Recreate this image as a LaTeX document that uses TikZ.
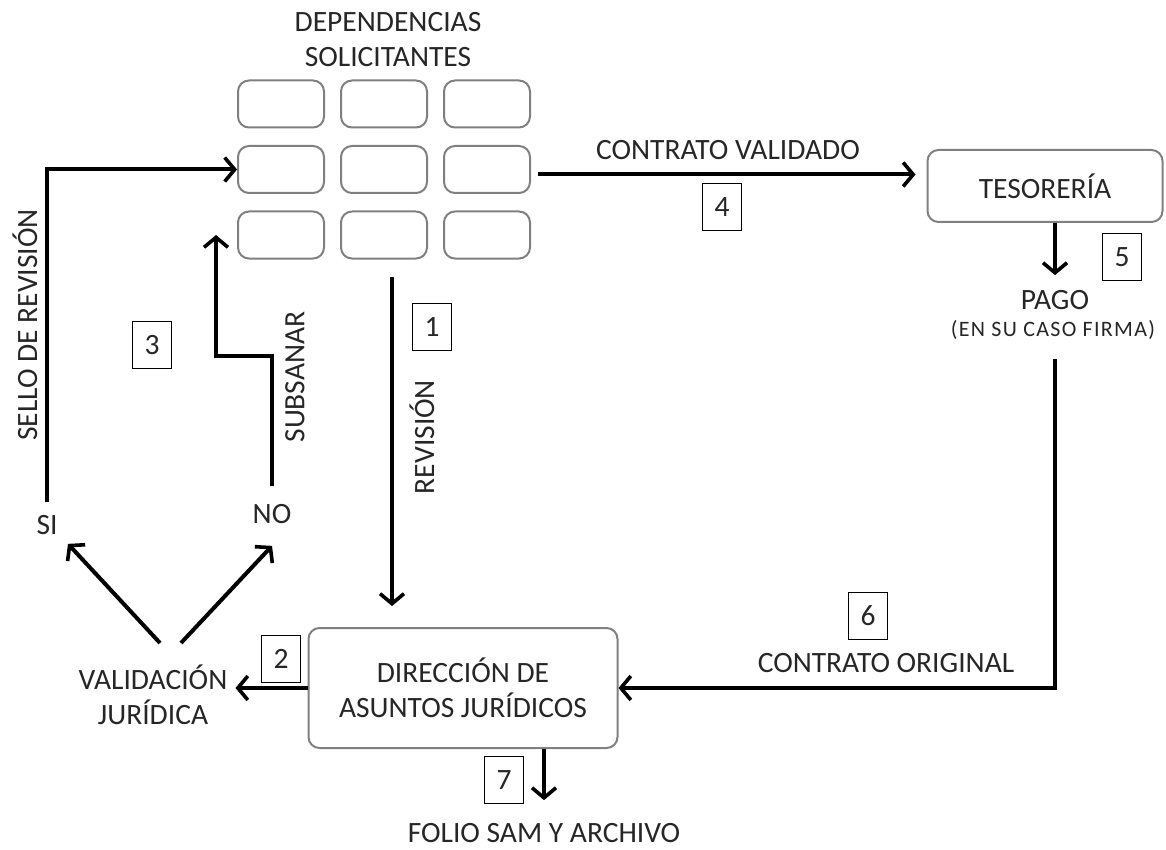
\documentclass[tikz,border=0pt]{standalone}
\usepackage{fontspec}
\setmainfont{Carlito}
\usetikzlibrary{arrows.meta}

\begin{document}
\begin{tikzpicture}[x=1pt, y=-1pt,
    every node/.style = {font=\fontsize{29.5}{35}\selectfont, align=center, inner sep=0pt, text=black!85},
    caja/.style = {draw=black!50, line width=2pt, rounded corners=11pt},
    num/.style = {draw=black, line width=1.8pt, minimum width=39pt, minimum height=47pt},
    flecha/.style = {line width=4pt, -{Straight Barb[length=10pt, width=24pt, line width=3.6pt]}}]
\useasboundingbox (0,0) rectangle (1166,850);
\node (tit) at (388,40) {DEPENDENCIAS\\SOLICITANTES};
\foreach \i in {1,2,3}
    \foreach \j in {1,2,3}
        \node[caja, minimum width=86pt, minimum height=47pt] (d\i\j)
            at ({281+103*(\j-1)}, {104+65.5*(\i-1)}) {};
\node[caja, minimum width=235pt, minimum height=72pt] (tes) at (1045,186) {TESORERÍA};
\node[caja, minimum width=309pt, minimum height=120pt] (daj) at (463,688)
    {DIRECCIÓN DE\\ASUNTOS JURÍDICOS};
\node (val) at (153,695) {VALIDACIÓN\\JURÍDICA};
\node (si) at (47,525) {SI};
\node (no) at (272,514) {NO};
\node (pago) at (1055,300) {PAGO};
\node[font=\fontsize{22}{26}\selectfont\addfontfeatures{LetterSpace=6}] (firma) at (1053,330) {(EN SU CASO FIRMA)};
\node (folio) at (544,833) {FOLIO SAM Y ARCHIVO};
\node (cv) at (728,150) {CONTRATO VALIDADO};
\node (co) at (886,663) {CONTRATO ORIGINAL};
\node[rotate=90] (sello) at (25,325) {SELLO DE REVISIÓN};
\node[rotate=90] (sub) at (295,377) {SUBSANAR};
\node[rotate=90] (rev) at (422,437) {REVISIÓN};
\node[num] (n1) at (432,327) {1};
\node[num] (n2) at (281,659) {2};
\node[num] (n3) at (152,345) {3};
\node[num] (n4) at (722,207) {4};
\node[num] (n5) at (1122,257) {5};
\node[num] (n6) at (868,616) {6};
\node[num] (n7) at (504,780) {7};
\coordinate (v1) at (160,643);
\coordinate (v2) at (181,643);
\draw[flecha, shorten <=17pt, shorten >=21pt] ([xshift=8pt]d32.south) -- ([xshift=8pt]d32.south |- daj.north);
\draw[flecha, shorten <=7pt, shorten >=11pt] ([yshift=-5pt]d23.east) -- ([yshift=-5pt]d23.east -| tes.west);
\draw[flecha, shorten >=15pt] (tes.south -| pago.north) -- (pago.north);
\draw[flecha, shorten <=19pt] (firma.south -| pago.south) |- (daj.east);
\draw[flecha, shorten >=8pt] (daj.west) -- (daj.west -| val.east);
\draw[flecha, shorten >=23pt] (daj.south -| folio.north) -- (folio.north);
\draw[flecha] (v1) -- ([shift={(21pt,-9pt)}]si.south);
\draw[flecha] (v2) -- ([yshift=-22pt]no.south);
\draw[flecha, shorten <=13pt] (si.north) |- (d21.west);
\draw[flecha, shorten <=18pt] (no.north) -- ++(0,-148) -| ([xshift=-21pt]d31.west);
\end{tikzpicture}
\end{document}
